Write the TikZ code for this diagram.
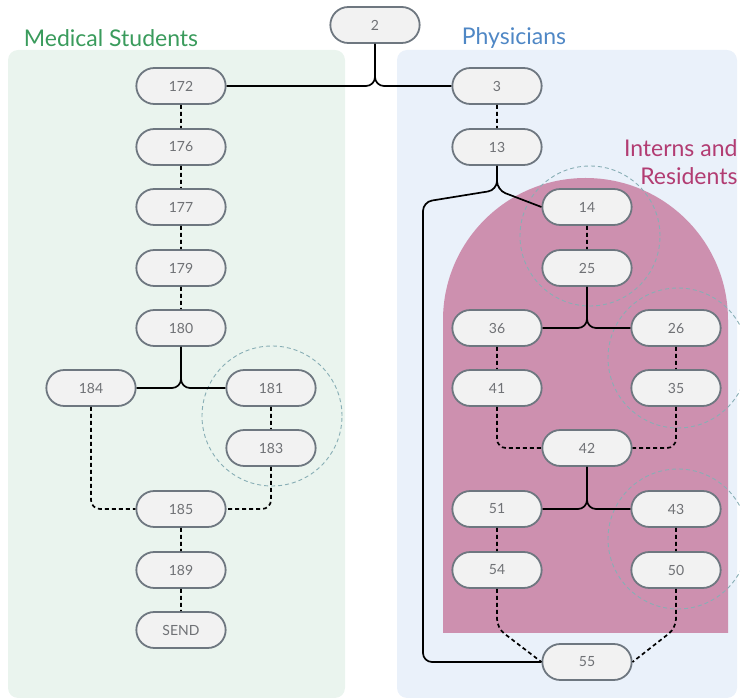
\documentclass[tikz,border=0pt]{standalone}
\usepackage{fontspec}
\setmainfont{Lato}
\usetikzlibrary{shapes.misc}
\definecolor{studentgreen}{HTML}{3A9B5C}
\definecolor{studentbg}{HTML}{EAF4EE}
\definecolor{physblue}{HTML}{4F87C5}
\definecolor{physbg}{HTML}{EAF1FA}
\definecolor{internpink}{HTML}{B23C72}
\definecolor{internbg}{HTML}{CD90AF}
\definecolor{nodegray}{HTML}{6E7780}
\definecolor{nodefill}{HTML}{F2F2F2}
\definecolor{numgray}{HTML}{6F7175}
\definecolor{circleteal}{HTML}{88AEB5}
\begin{document}
\begin{tikzpicture}[x=1pt, y=-1pt,
    state/.style={rounded rectangle, draw=nodegray, line width=1.8pt, fill=nodefill,
      minimum width=96pt, minimum height=36pt, text=numgray, font=\fontsize{14}{16}\selectfont},
    title/.style={font=\fontsize{23}{28}\selectfont},
    link/.style={line width=1.7pt, rounded corners=9pt},
    dlink/.style={link, dash pattern=on 4pt off 3pt},
    group/.style={draw=circleteal, line width=0.9pt, dash pattern=on 4pt off 3pt}]
      \useasboundingbox (0,0) rectangle (740,700);

      % panels
      \fill[studentbg, rounded corners=10pt] (8,50) rectangle (345,698);
      \fill[physbg, rounded corners=10pt] (397,50) rectangle (737,698);
      \fill[internbg] (443,633) -- (443,320) arc[start angle=180, end angle=0, x radius=142.5pt, y radius=142pt] -- (728,633) -- cycle;

      \node[title, text=studentgreen] (students) at (111,38) {Medical Students};
      \node[title, text=physblue] (physicians) at (514,38) {Physicians};
      \node[title, text=internpink, align=right, anchor=east] (interns) at (741,162) {Interns and\\Residents};

      % dashed groups
      \draw[group] (590,236) circle[radius=70pt];
      \draw[group] (272,416) circle[radius=70pt];
      \draw[group] (678,358) circle[radius=70pt];
      \draw[group] (678,539) circle[radius=70pt];

      \node[state] (n2) at (375,25) {2};
      \node[state] (n172) at (181,86) {172};
      \node[state] (n176) at (181,147) {176};
      \node[state] (n177) at (181,207) {177};
      \node[state] (n179) at (181,268) {179};
      \node[state] (n180) at (181,328) {180};
      \node[state] (n184) at (91,388) {184};
      \node[state] (n181) at (271,388) {181};
      \node[state] (n183) at (271,448) {183};
      \node[state] (n185) at (181,509) {185};
      \node[state] (n189) at (181,570) {189};
      \node[state] (nSEND) at (181,630) {SEND};
      \node[state] (n3) at (497,86) {3};
      \node[state] (n13) at (497,147) {13};
      \node[state] (n14) at (587,207) {14};
      \node[state] (n25) at (587,268) {25};
      \node[state] (n36) at (497,328) {36};
      \node[state] (n26) at (676,328) {26};
      \node[state] (n41) at (497,388) {41};
      \node[state] (n35) at (676,388) {35};
      \node[state] (n42) at (587,448) {42};
      \node[state] (n51) at (497,509) {51};
      \node[state] (n43) at (676,509) {43};
      \node[state] (n54) at (497,570) {54};
      \node[state] (n50) at (676,570) {50};
      \node[state] (n55) at (587,662) {55};

      \foreach \a/\b in {172/176,176/177,177/179,179/180,181/183,185/189,189/SEND,3/13,14/25,36/41,26/35,51/54,43/50}
        \draw[dlink] (n\a) -- (n\b);

      \draw[link] (n172.east) -- (375,86) -- (n2.south);
      \draw[link] (n3.west) -- (375,86) -- (n2.south);
      \draw[link] (n184.east) -- (181,388) -- (n180.south);
      \draw[link] (n181.west) -- (181,388) -- (n180.south);
      \draw[dlink] (n184.south) -- (91,509) -- (n185.west);
      \draw[dlink] (n183.south) -- (271,509) -- (n185.east);

      \draw[link] (n13.south) -- (497,190) -- (423,202) -- (423,662) -- (n55.west);
      \draw[link] (n13.south) -- (497,190) -- (n14.west);
      \draw[link] (n36.east) -- (587,328) -- (n25.south);
      \draw[link] (n26.west) -- (587,328) -- (n25.south);
      \draw[dlink] (n41.south) -- (497,448) -- (n42.west);
      \draw[dlink] (n35.south) -- (676,448) -- (n42.east);
      \draw[link] (n51.east) -- (587,509) -- (n42.south);
      \draw[link] (n43.west) -- (587,509) -- (n42.south);
      \draw[dlink] (n54.south) -- (497,628) -- (n55.west);
      \draw[dlink] (n50.south) -- (676,628) -- (n55.east);
    \end{tikzpicture}
\end{document}
